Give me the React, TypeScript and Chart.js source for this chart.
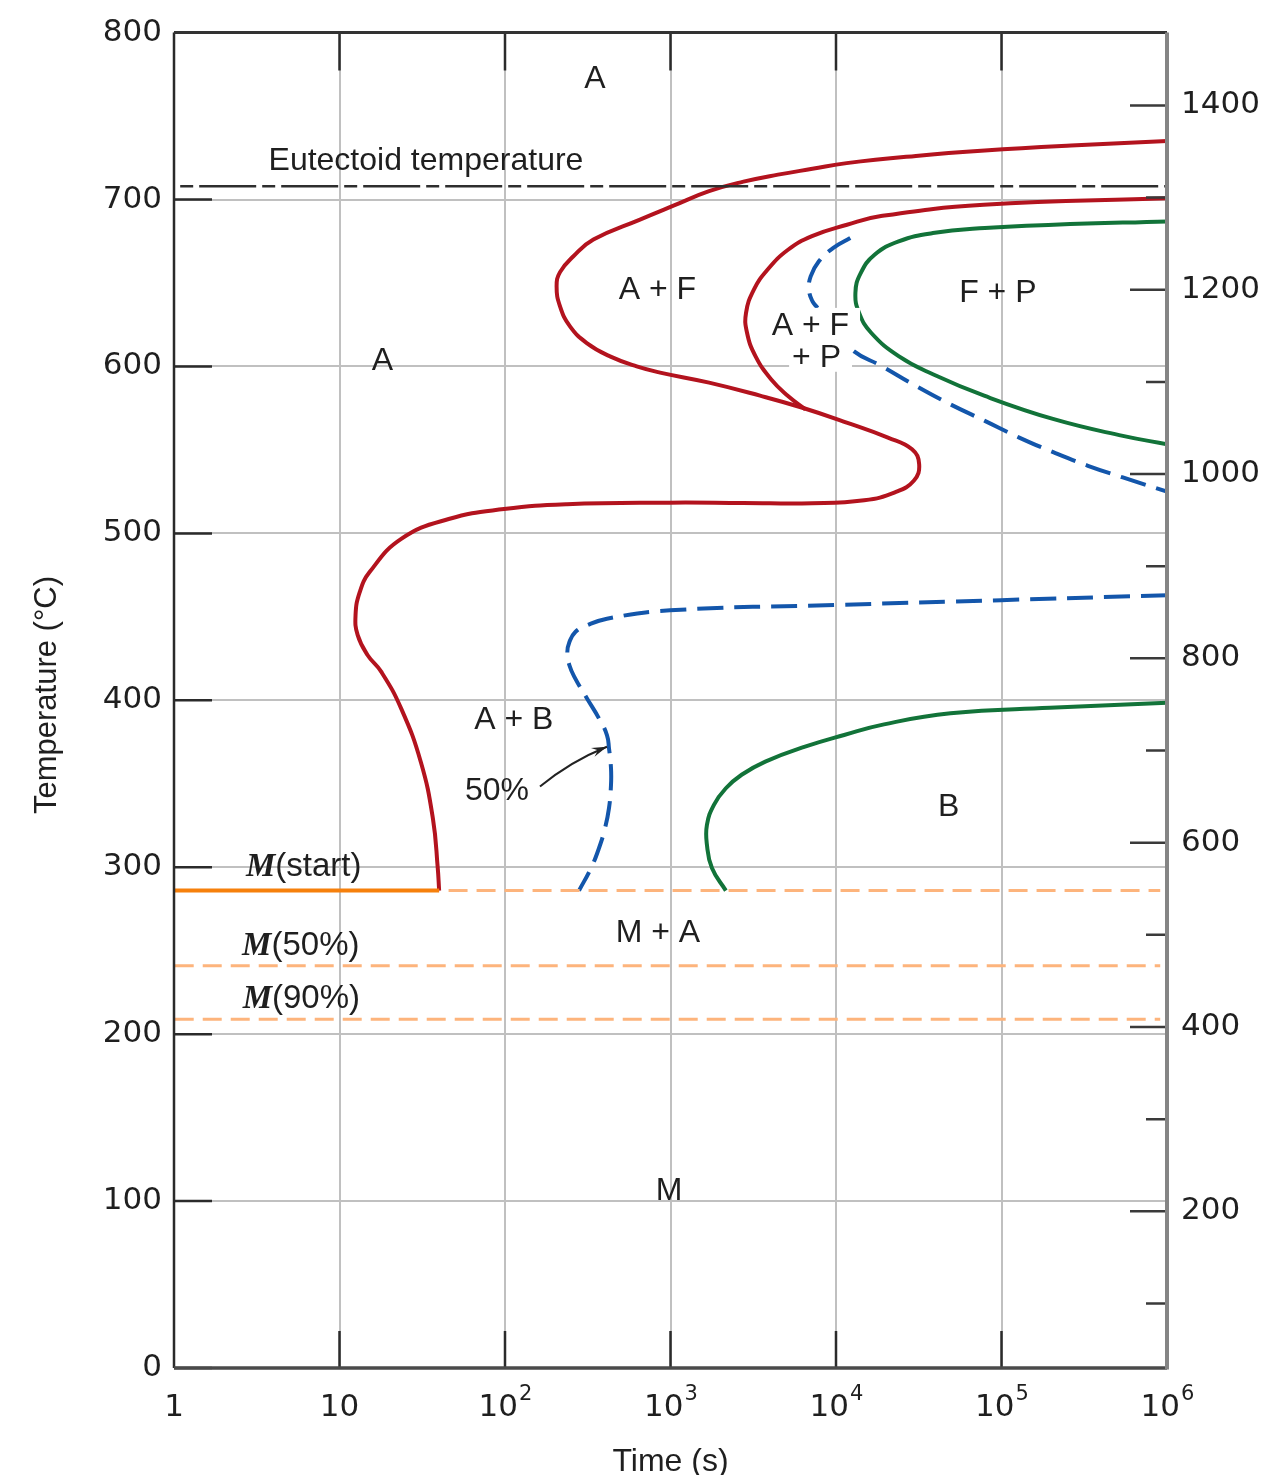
import { useEffect, useRef } from 'react';
import { Chart, registerables } from 'chart.js';

Chart.register(...registerables);

// ---- axes ----
const timeTicks = [1, 10, 100, 1000, 1e4, 1e5, 1e6];
const timeTickBase = ['1', '10', '10', '10', '10', '10', '10'];
const timeTickExp = ['', '', '2', '3', '4', '5', '6'];
const tempTicksC = [0, 100, 200, 300, 400, 500, 600, 700, 800];
const tempTicksF = [200, 400, 600, 800, 1000, 1200, 1400];
const tempMinorTicksF = [100, 300, 500, 700, 900, 1100, 1300];

// ---- horizontal reference temperatures (°C) ----
const eutectoidTemp = 708;
const mStartTemp = 286;
const m50Temp = 241;
const m90Temp = 209;
const mStartTime = 40;

// ---- curves: [time (s), temperature (°C)] ----
const startCurve: [number, number][] = [
  [1e6, 735], [2.63e5, 732.3], [7.93e4, 729.3], [3.04e4, 726.1], [1.16e4, 721.8],
  [7.2e3, 718.4], [4.46e3, 714.9], [2.76e3, 710.7], [1.71e3, 705.0],
  [1.06e3, 696.6], [654, 688], [342, 676], [259, 666], [215, 656.5], [205, 648],
  [215, 636], [247, 624], [312, 614], [431, 606], [625, 600], [865, 596.3], [1710, 590.3],
  [3475, 582.5], [6.2e3, 575.4], [1.16e4, 566.4], [2.06e4, 557.4], [2.88e4, 550.4],
  [3.18e4, 541.5], [2.96e4, 531.7], [2.27e4, 524.6], [1.48e4, 519.8], [7.16e3, 518],
  [2.74e3, 518.2], [993, 518.4], [237, 517.5], [98.6, 514.6], [45.7, 508.6], [23.6, 496.7],
  [15.2, 476.8], [13.25, 464.8], [12.5, 451], [12.88, 439], [14.8, 427], [17.9, 417],
  [23.6, 395], [31, 363], [36.7, 329], [39.2, 300], [40, 286],
];
const ferriteEndCurve: [number, number][] = [
  [1e6, 700.8], [7.8e4, 696.8], [1.87e4, 690.1], [1.165e4, 684.9], [7.16e3, 678.1],
  [5.13e3, 669.9], [3.86e3, 658], [3.19e3, 646], [2.86e3, 632.1], [2.9e3, 620.2],
  [3.26e3, 606.2], [4.05e3, 592.3], [5.13e3, 582.3], [6.54e3, 574.3],
];
const pearlite50Curve: [number, number][] = [
  [1.22e4, 676.9], [9.59e3, 670.9], [7.88e3, 663], [7.03e3, 654], [6.87e3, 646],
  [7.2e3, 639.1], [7.74e3, 635.1], [9.5e3, 623.2], [1.28e4, 609.2], [1.88e4, 600.3],
  [3.04e4, 588.3], [4.91e4, 577.3], [7.93e4, 567.4], [1.28e5, 557.4], [2.07e5, 548.5],
  [3.33e5, 540.5], [5.41e5, 533.5], [1e6, 525],
];
const pearliteEndCurve: [number, number][] = [
  [1e6, 686.9], [2.07e5, 684.9], [7.93e4, 682.9], [3.85e4, 679.9], [2.39e4, 674.9],
  [1.71e4, 666.9], [1.41e4, 655.9], [1.31e4, 644.1], [1.38e4, 632.1], [1.63e4, 620.2],
  [2.39e4, 606.2], [3.85e4, 595.3], [7.93e4, 582.3], [2.07e5, 568.4], [5.41e5, 558.4],
  [1e6, 553.4],
];
const bainite50Curve: [number, number][] = [
  [1e6, 463], [9.93e4, 460], [1e4, 457.1], [993, 453.9], [413, 448.9], [313, 444.9],
  [266, 440.9], [245, 434.9], [238, 428.9], [245, 421], [266, 413], [313, 401.1],
  [370, 389.1], [413, 379.2], [425, 371.2], [437, 359.3], [437, 349.3], [425, 335.4],
  [402, 323.4], [370, 311.5], [331, 299.5], [280, 286],
];
const bainiteEndCurve: [number, number][] = [
  [1e6, 398.5], [1.96e5, 395.5], [4.92e4, 392.2], [1.95e4, 385.6], [1.12e4, 379.2],
  [6.5e3, 372.2], [3.74e3, 363.3], [2.69e3, 355.4], [2.16e3, 347.3], [1.83e3, 337.4],
  [1.66e3, 325.4], [1.66e3, 313.5], [1.78e3, 299.5], [2.16e3, 286],
];

// ---- annotations (time, temperature) ----
const regionLabels = [
  { text: 'A', t: 350, T: 772.5, mask: false },
  { text: 'Eutectoid temperature', t: 33.3, T: 723.5, mask: false },
  { text: 'A', t: 18.2, T: 603.4, mask: false },
  { text: 'A + F', t: 834, T: 646, mask: false },
  { text: 'F + P', t: 9.5e4, T: 644, mask: false },
  { text: 'A + F', t: 7.0e3, T: 624.3, mask: true },
  { text: '+ P', t: 7.63e3, T: 605.2, mask: true },
  { text: 'A + B', t: 113, T: 388.4, mask: false },
  { text: '50%', t: 89.5, T: 346, mask: false },
  { text: 'B', t: 4.8e4, T: 336.4, mask: false },
  { text: 'M + A', t: 840, T: 261, mask: false },
  { text: 'M', t: 979, T: 106.3, mask: false },
];
const martensiteLabels = [
  { sub: '(start)', t: 2.72, T: 301.7 },
  { sub: '(50%)', t: 2.58, T: 254.2 },
  { sub: '(90%)', t: 2.6, T: 222.4 },
];
const arrowFrom: [number, number] = [162.7, 348.3];
const arrowCtrl: [number, number] = [247, 363.3];
const arrowTo: [number, number] = [413, 372.2];

const RED = '#b3131e';
const GREEN = '#127339';
const BLUE = '#1356ab';
const ORANGE = '#f6800c';
const LIGHT_ORANGE = '#fdb47c';
const TEXT = '#1f1f1f';
const SANS = '"Liberation Sans", Arial, sans-serif';
const TICK_FONT = '"DejaVu Sans"';

const pts = (arr: [number, number][]) => arr.map(([x, y]) => ({ x, y }));

const curve = (arr: [number, number][], color: string, extra: any = {}) => ({
  data: pts(arr),
  borderColor: color,
  borderWidth: 4,
  pointRadius: 0,
  tension: 0.45,
  fill: false,
  borderCapStyle: 'butt',
  borderJoinStyle: 'round',
  ...extra,
});

const ttPlugin = {
  id: 'ttPlugin',
  afterDatasetsDraw(chart: any) {
    const { ctx } = chart;
    const xs = chart.scales.x;
    const ys = chart.scales.y;
    ctx.save();
    const size = 32;
    ctx.font = `${size}px ${SANS}`;
    ctx.textAlign = 'center';
    ctx.textBaseline = 'alphabetic';
    for (const l of regionLabels) {
      const px = xs.getPixelForValue(l.t);
      const py = ys.getPixelForValue(l.T) - 2;
      const w = ctx.measureText(l.text).width;
      if (l.mask) {
        ctx.fillStyle = '#ffffff';
        ctx.fillRect(px - w / 2 - 3, py - size * 0.5, w + 14, size);
      }
      ctx.fillStyle = TEXT;
      ctx.fillText(l.text, px, py + (size * 0.716) / 2);
    }
    for (const m of martensiteLabels) {
      const px = xs.getPixelForValue(m.t);
      const py = ys.getPixelForValue(m.T);
      ctx.textAlign = 'left';
      ctx.font = `italic bold 33px "Liberation Serif", serif`;
      ctx.fillStyle = TEXT;
      ctx.fillText('M', px, py + 11.5);
      const mw = ctx.measureText('M').width;
      ctx.font = `33px ${SANS}`;
      ctx.fillText(m.sub, px + mw, py + 11.5);
    }
    const a0x = xs.getPixelForValue(arrowFrom[0]);
    const a0y = ys.getPixelForValue(arrowFrom[1]);
    const acx = xs.getPixelForValue(arrowCtrl[0]);
    const acy = ys.getPixelForValue(arrowCtrl[1]);
    const a1x = xs.getPixelForValue(arrowTo[0]);
    const a1y = ys.getPixelForValue(arrowTo[1]);
    ctx.strokeStyle = '#222';
    ctx.lineWidth = 2;
    ctx.beginPath();
    ctx.moveTo(a0x, a0y);
    ctx.quadraticCurveTo(acx, acy, a1x, a1y);
    ctx.stroke();
    const ang = Math.atan2(a1y - acy, a1x - acx);
    const hl = 16;
    ctx.fillStyle = '#222';
    ctx.beginPath();
    ctx.moveTo(a1x, a1y);
    ctx.lineTo(a1x - hl * Math.cos(ang - 0.3), a1y - hl * Math.sin(ang - 0.3));
    ctx.lineTo(a1x - hl * 0.6 * Math.cos(ang), a1y - hl * 0.6 * Math.sin(ang));
    ctx.lineTo(a1x - hl * Math.cos(ang + 0.3), a1y - hl * Math.sin(ang + 0.3));
    ctx.closePath();
    ctx.fill();
    ctx.restore();
  },
  afterDraw(chart: any) {
    const { ctx, chartArea } = chart;
    const { left, right, top, bottom } = chartArea;
    const xs = chart.scales.x;
    const ys = chart.scales.y;
    const yf = chart.scales.y2;
    ctx.save();
    ctx.lineCap = 'butt';
    ctx.strokeStyle = '#2b2b2b';
    ctx.lineWidth = 2.5;
    ctx.beginPath();
    for (const v of tempTicksC) {
      const y = ys.getPixelForValue(v);
      ctx.moveTo(left, y);
      ctx.lineTo(left + 38, y);
    }
    for (const v of timeTicks.slice(1, -1)) {
      const x = xs.getPixelForValue(v);
      ctx.moveTo(x, top);
      ctx.lineTo(x, top + 38);
      ctx.moveTo(x, bottom);
      ctx.lineTo(x, bottom - 37);
    }
    ctx.stroke();
    ctx.strokeStyle = '#3a3a3a';
    ctx.beginPath();
    for (const v of tempTicksF) {
      const y = yf.getPixelForValue(v);
      ctx.moveTo(right, y);
      ctx.lineTo(right - 37, y);
    }
    for (const v of tempMinorTicksF) {
      const y = yf.getPixelForValue(v);
      ctx.moveTo(right, y);
      ctx.lineTo(right - 21, y);
    }
    ctx.stroke();
    // frame
    ctx.strokeStyle = '#2a2a2a';
    ctx.lineWidth = 2.5;
    ctx.beginPath();
    ctx.moveTo(left, top);
    ctx.lineTo(left, bottom);
    ctx.stroke();
    ctx.strokeStyle = '#333';
    ctx.lineWidth = 3;
    ctx.beginPath();
    ctx.moveTo(left, top);
    ctx.lineTo(right, top);
    ctx.stroke();
    ctx.strokeStyle = '#4a4a4a';
    ctx.lineWidth = 3.5;
    ctx.beginPath();
    ctx.moveTo(left, bottom);
    ctx.lineTo(right, bottom);
    ctx.stroke();
    ctx.strokeStyle = '#858585';
    ctx.lineWidth = 4;
    ctx.beginPath();
    ctx.moveTo(right, top);
    ctx.lineTo(right, bottom + 1.5);
    ctx.stroke();
    // x tick labels with superscript exponents
    ctx.fillStyle = TEXT;
    ctx.textBaseline = 'alphabetic';
    timeTicks.forEach((v, i) => {
      const x = xs.getPixelForValue(v);
      ctx.font = `31px ${TICK_FONT}`;
      const bw = ctx.measureText(timeTickBase[i]).width;
      ctx.font = `21px ${TICK_FONT}`;
      const ew = timeTickExp[i] ? ctx.measureText(timeTickExp[i]).width : 0;
      const x0 = x - (bw + ew) / 2;
      ctx.textAlign = 'left';
      ctx.font = `31px ${TICK_FONT}`;
      ctx.fillText(timeTickBase[i], x0, 1416);
      if (ew) {
        ctx.font = `21px ${TICK_FONT}`;
        ctx.fillText(timeTickExp[i], x0 + bw + 1, 1400);
      }
    });
    // axis titles
    ctx.textAlign = 'center';
    ctx.font = `32px ${SANS}`;
    ctx.fillText('Time (s)', (left + right) / 2, 1471);
    ctx.translate(56, 695);
    ctx.rotate(-Math.PI / 2);
    ctx.font = `31px ${SANS}`;
    ctx.fillText('Temperature (°C)', 0, 0);
    ctx.restore();
  },
};

export default function App() {
  const canvasRef = useRef<HTMLCanvasElement | null>(null);

  useEffect(() => {
    const canvas = canvasRef.current;
    if (!canvas) return;
    const hiddenSegs = [6, 7];
    const dashed = { borderWidth: 3, borderDash: [19, 9], tension: 0 };
    const chart = new Chart(canvas, {
      type: 'line',
      data: {
        datasets: [
          curve([[1.09, eutectoidTemp], [1e6, eutectoidTemp]], '#2e2e2e', {
            borderWidth: 2.5, borderDash: [13, 6, 57, 6], tension: 0,
          }),
          curve([[1, mStartTemp], [mStartTime, mStartTemp]], ORANGE, { tension: 0 }),
          curve([[mStartTime * 1.14, mStartTemp], [9.1e5, mStartTemp]], LIGHT_ORANGE, dashed),
          curve([[1.01, m50Temp], [9.1e5, m50Temp]], LIGHT_ORANGE, dashed),
          curve([[1.01, m90Temp], [9.1e5, m90Temp]], LIGHT_ORANGE, dashed),
          curve(startCurve, RED),
          curve(ferriteEndCurve, RED),
          curve(pearliteEndCurve, GREEN),
          curve(bainiteEndCurve, GREEN),
          curve(pearlite50Curve, BLUE, {
            borderDash: [26, 11],
            segment: {
              borderColor: (c: any) => (hiddenSegs.includes(c.p0DataIndex) ? 'rgba(0,0,0,0)' : BLUE),
            },
          }),
          curve(bainite50Curve, BLUE, { borderDash: [26, 11] }),
        ] as any,
      },
      options: {
        responsive: false,
        animation: false,
        events: [],
        layout: { padding: { top: 29, left: 0, right: 0, bottom: 0 } },
        plugins: { legend: { display: false }, tooltip: { enabled: false } },
        scales: {
          x: {
            type: 'logarithmic',
            position: 'bottom',
            min: 1,
            max: 1e6,
            afterBuildTicks: (s: any) => {
              s.ticks = timeTicks.map((v) => ({ value: v }));
            },
            afterFit: (s: any) => {
              s.height = 107;
            },
            ticks: { display: false, autoSkip: false, maxRotation: 0 },
            grid: { color: '#c0c0c0', lineWidth: 2, drawTicks: false },
            border: { display: false },
          },
          y: {
            type: 'linear',
            position: 'left',
            min: 0,
            max: 800,
            afterBuildTicks: (s: any) => {
              s.ticks = tempTicksC.map((v) => ({ value: v }));
            },
            afterFit: (s: any) => {
              s.width = 174;
            },
            ticks: {
              padding: 12,
              color: TEXT,
              font: { family: TICK_FONT, size: 31 },
              callback: (v: any) => String(v),
            },
            grid: { color: '#c0c0c0', lineWidth: 2, drawTicks: false },
            border: { display: false },
          },
          y2: {
            type: 'linear',
            position: 'right',
            min: 30,
            max: 1479,
            afterBuildTicks: (s: any) => {
              s.ticks = tempTicksF.map((v) => ({ value: v }));
            },
            afterFit: (s: any) => {
              s.width = 99;
            },
            ticks: {
              padding: 14,
              color: TEXT,
              font: { family: TICK_FONT, size: 31 },
              callback: (v: any) => String(v),
            },
            grid: { display: false, drawTicks: false },
            border: { display: false },
          },
        },
      } as any,
      plugins: [ttPlugin],
    });
    return () => chart.destroy();
  }, []);

  return (
    <canvas
      ref={canvasRef}
      width={1266}
      height={1475}
      style={{ position: 'absolute', left: 0, top: 0, width: 1266, height: 1475, display: 'block' }}
    />
  );
}
